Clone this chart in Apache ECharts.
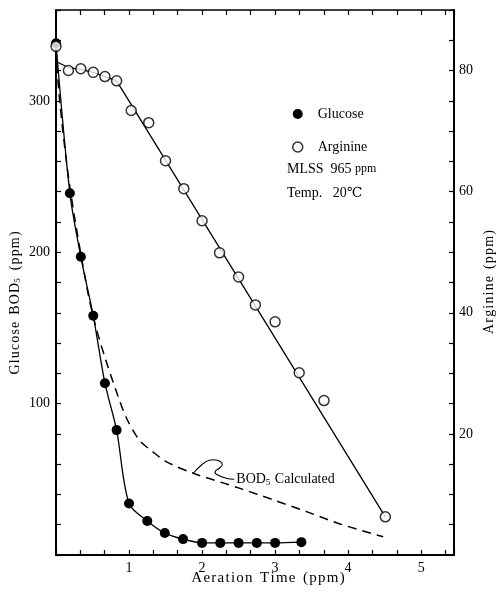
<!DOCTYPE html>
<html>
<head>
<meta charset="utf-8">
<script src="https://cdn.jsdelivr.net/npm/echarts@6/dist/echarts.min.js"></script>
<style>
  html, body { margin: 0; padding: 0; background: #fff; }
  #chart { width: 497px; height: 592px; }
</style>
</head>
<body>
<div id="chart"></div>
<script>
// values
const glucoseTime = [0, 0.19, 0.34, 0.51, 0.67, 0.83, 1.0, 1.25, 1.49, 1.74, 2.0, 2.25, 2.5, 2.75, 3.0, 3.36]
const glucoseBod = [338, 239, 197, 158, 113.5, 82.5, 34, 22.5, 14.5, 10.5, 8, 8, 8, 8, 8, 8.5]

const arginineTime = [0, 0.17, 0.34, 0.51, 0.67, 0.83, 1.03, 1.27, 1.5, 1.75, 2.0, 2.24, 2.5, 2.73, 3.0, 3.33, 3.67, 4.51]
const arginineConc = [84, 80, 80.3, 79.7, 79, 78.3, 73.4, 71.4, 65.1, 60.5, 55.2, 49.9, 45.9, 41.3, 38.5, 30.1, 25.5, 6.3]

// hand drawn trend line through the arginine points
const arginineFitTime = [0, 0.17, 0.34, 0.51, 0.67, 0.83, 4.51]
const arginineFitConc = [81.5, 80.5, 80.2, 79.7, 79, 78.3, 6.3]

// BOD5 calculated (dashed)
const calcTime = [0, 0.05, 0.19, 0.43, 0.55, 0.68, 0.82, 0.96, 1.14, 1.33, 1.52, 1.88, 2.52, 2.97, 3.44, 3.89, 4.48]
const calcBod = [334, 300, 243, 175, 150, 129, 109, 91, 76, 68, 61.4, 54, 44, 36.5, 28.5, 20.5, 12]

const xLabels = [1, 2, 3, 4, 5]
const leftLabels = [100, 200, 300]
const rightLabels = [20, 40, 60, 80]

const serif = '"Liberation Serif", "DejaVu Serif", serif'
const zip = (a, b) => a.map((v, i) => [v, b[i]])
const pick = list => v => {
  const hit = list.find(t => Math.abs(t - v) < 1e-6)
  return hit === undefined ? '' : String(hit)
}
// the scanned figure has loosely spaced lettering
const spaced = s => s.split('').join('\u200a')

const chart = echarts.init(document.getElementById('chart'))

const tickStyle = { color: '#000', width: 1.2 }
const labelStyle = { color: '#000', fontFamily: serif, fontSize: 14 }

chart.setOption({
  animation: false,
  grid: { left: 56, right: 43, top: 10, bottom: 37 },
  legend: {
    orient: 'vertical',
    left: 287,
    top: 102,
    itemWidth: 10,
    itemHeight: 10,
    itemGap: 19,
    selectedMode: false,
    textStyle: { color: '#000', fontFamily: serif, fontSize: 14, padding: [0, 0, 0, 10] },
    data: [
      { name: 'Glucose', icon: 'circle', itemStyle: { color: '#000' } },
      { name: 'Arginine', icon: 'circle', itemStyle: { color: '#fff', borderColor: '#000', borderWidth: 1.5 } }
    ]
  },
  xAxis: [{
    type: 'value',
    min: 0,
    max: 5.45,
    interval: 1 / 3,
    axisLine: { onZero: false, lineStyle: { color: '#000', width: 2 } },
    axisTick: { inside: true, length: 5, lineStyle: tickStyle },
    axisLabel: Object.assign({ margin: 6, formatter: pick(xLabels) }, labelStyle),
    splitLine: { show: false }
  }, {
    type: 'value',
    position: 'top',
    min: 0,
    max: 5.45,
    interval: 1 / 3,
    axisLine: { onZero: false, lineStyle: { color: '#000', width: 1.5 } },
    axisTick: { inside: true, length: 5, lineStyle: tickStyle },
    axisLabel: { show: false },
    splitLine: { show: false }
  }],
  yAxis: [{
    type: 'value',
    min: 0,
    max: 360,
    interval: 20,
    axisLine: { show: true, onZero: false, lineStyle: { color: '#000', width: 2 } },
    axisTick: { show: true, inside: true, length: 5, lineStyle: tickStyle },
    axisLabel: Object.assign({ margin: 6, formatter: pick(leftLabels) }, labelStyle),
    splitLine: { show: false }
  }, {
    type: 'value',
    position: 'right',
    min: 0,
    max: 90,
    interval: 5,
    axisLine: { show: true, onZero: false, lineStyle: { color: '#000', width: 2 } },
    axisTick: { show: true, inside: true, length: 5, lineStyle: tickStyle },
    axisLabel: Object.assign({ margin: 5, formatter: pick(rightLabels) }, labelStyle),
    splitLine: { show: false }
  }],
  series: [{
    name: 'BOD5 Calculated',
    type: 'line',
    data: zip(calcTime, calcBod),
    smooth: 0.3,
    showSymbol: false,
    lineStyle: { color: '#000', width: 1.5, type: [9, 6] }
  }, {
    name: 'Arginine fit',
    type: 'line',
    yAxisIndex: 1,
    data: zip(arginineFitTime, arginineFitConc),
    showSymbol: false,
    lineStyle: { color: '#000', width: 1.3 }
  }, {
    name: 'Glucose',
    type: 'line',
    data: zip(glucoseTime, glucoseBod),
    smooth: 0.3,
    symbol: 'circle',
    symbolSize: 10,
    itemStyle: { color: '#000' },
    lineStyle: { color: '#000', width: 1.3 }
  }, {
    name: 'Arginine',
    type: 'scatter',
    yAxisIndex: 1,
    data: zip(arginineTime, arginineConc),
    symbol: 'circle',
    symbolSize: 10,
    itemStyle: { color: '#fff', borderColor: '#000', borderWidth: 1.5 },
    z: 5
  }]
})

// annotation anchored on the dashed curve
const tip = chart.convertToPixel({ xAxisIndex: 0, yAxisIndex: 0 }, [1.88, 54])
const squiggle = [[0, 0], [9, -9], [16, -13], [24, -13], [29, -9], [26, -5], [22, -2], [23, 1], [33, 5], [41, 6]]

chart.setOption({
  graphic: [{
    type: 'polyline',
    shape: { points: squiggle.map(p => [tip[0] + p[0], tip[1] + p[1]]), smooth: 0.4 },
    style: { stroke: '#000', lineWidth: 1.1, fill: null }
  }, {
    type: 'text',
    x: tip[0] + 43,
    y: tip[1] + 6,
    style: {
      text: '{a|BOD}{s|5}{a| Calculated}',
      verticalAlign: 'middle',
      rich: {
        a: { fontFamily: serif, fontSize: 14, fill: '#000' },
        s: { fontFamily: serif, fontSize: 9, fill: '#000', padding: [6, 1, 0, 0] }
      }
    }
  }, {
    type: 'text',
    x: 287,
    y: 169,
    style: {
      text: '{a|MLSS}{a|  965 }{b|ppm}',
      verticalAlign: 'middle',
      rich: {
        a: { fontFamily: serif, fontSize: 14, fill: '#000' },
        b: { fontFamily: serif, fontSize: 12, fill: '#000' }
      }
    }
  }, {
    type: 'text',
    x: 287,
    y: 193,
    style: { text: 'Temp.   20\u2103', fontFamily: serif, fontSize: 14, fill: '#000', verticalAlign: 'middle' }
  }, {
    type: 'text',
    x: 15,
    y: 303,
    rotation: Math.PI / 2,
    style: {
      text: '{a|' + spaced('Glucose') + '  ' + spaced('BOD') + '}{s|5}{a|  ' + spaced('(ppm)') + '}',
      align: 'center',
      verticalAlign: 'middle',
      rich: {
        a: { fontFamily: serif, fontSize: 14, fill: '#000' },
        s: { fontFamily: serif, fontSize: 9, fill: '#000', padding: [6, 1, 0, 0] }
      }
    }
  }, {
    type: 'text',
    x: 489,
    y: 282,
    rotation: Math.PI / 2,
    style: { text: spaced('Arginine') + '  ' + spaced('(ppm)'), fontFamily: serif, fontSize: 14, fill: '#000', align: 'center', verticalAlign: 'middle' }
  }, {
    type: 'text',
    x: 268,
    y: 578,
    style: { text: spaced('Aeration') + '  ' + spaced('Time') + '  ' + spaced('(ppm)'), fontFamily: serif, fontSize: 15, fill: '#000', align: 'center', verticalAlign: 'middle' }
  }]
})
</script>
</body>
</html>
